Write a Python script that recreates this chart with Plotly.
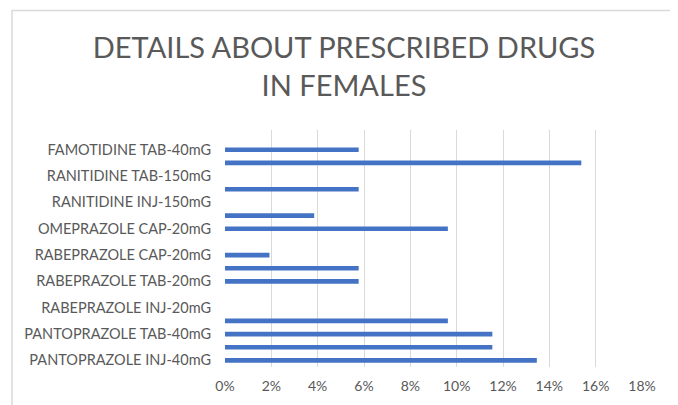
import plotly.graph_objects as go

# Categories bottom -> top. Only every other category label is printed in the
# original chart; the unlabeled ones are placeholders.
categories = [
    "PANTOPRAZOLE INJ-40mG", "(unlabeled 1)",
    "PANTOPRAZOLE TAB-40mG", "(unlabeled 3)",
    "RABEPRAZOLE INJ-20mG", "(unlabeled 5)",
    "RABEPRAZOLE TAB-20mG", "(unlabeled 7)",
    "RABEPRAZOLE CAP-20mG", "(unlabeled 9)",
    "OMEPRAZOLE CAP-20mG", "(unlabeled 11)",
    "RANITIDINE INJ-150mG", "(unlabeled 13)",
    "RANITIDINE TAB-150mG", "(unlabeled 15)",
    "FAMOTIDINE TAB-40mG", "(unlabeled 17)",
]
values = [
    0.1346, 0.1154,
    0.1154, 0.0962,
    0.0, 0.0,
    0.0577, 0.0577,
    0.0192, 0.0,
    0.0962, 0.0385,
    0.0, 0.0577,
    0.0, 0.1538,
    0.0577, 0.0,
]
shown_labels = categories[0::2]
x_ticks = [0, 0.02, 0.04, 0.06, 0.08, 0.10, 0.12, 0.14, 0.16, 0.18]
x_tick_text = ["0%", "2%", "4%", "6%", "8%", "10%", "12%", "14%", "16%", "18%"]
title_text = "DETAILS ABOUT PRESCRIBED DRUGS<br>IN FEMALES"

# the page body has an 8px margin, so the figure is drawn 8px right/down
OFF = 8
W, H = 678 - OFF, 405 - OFF
ML, MT = 225 - OFF, 130 - OFF
MR = W - (642 - OFF)
MB = H - (367 - OFF)
FONT = "Lato, 'Open Sans', sans-serif"

fig = go.Figure(go.Bar(
    x=values, y=categories, orientation="h",
    marker=dict(color="#4472C4", line=dict(width=0)),
    width=0.35,
))

fig.update_layout(
    width=W, height=H,
    margin=dict(l=ML, r=MR, t=MT, b=MB, autoexpand=False),
    paper_bgcolor="white", plot_bgcolor="white",
    showlegend=False,
    font=dict(family=FONT, color="#595959"),
    title=dict(text=title_text, xref="container", x=(344 - OFF) / W, xanchor="center",
               yref="container", y=1 - (58 - OFF) / H, yanchor="middle",
               font=dict(size=29, color="#595959", family=FONT)),
)
fig.update_xaxes(
    range=[0, 0.18], tickvals=x_ticks, ticktext=x_tick_text,
    showgrid=True, gridcolor="#d9d9d9", gridwidth=1,
    zeroline=False, showline=False, automargin=False,
    tickfont=dict(size=14, color="#595959"),
    ticks="", ticklabelstandoff=9,
)
fig.update_yaxes(
    type="category", categoryorder="array", categoryarray=categories,
    range=[-0.5, len(categories) - 0.5],
    tickvals=shown_labels, ticktext=shown_labels,
    showgrid=False, zeroline=False, showline=False, automargin=False,
    tickfont=dict(size=14.5, color="#595959"),
    ticks="", ticklabelstandoff=13,
)

# chart outer border
pw = W - ML - MR
ph = H - MT - MB
def px_to_paper_x(px):
    return (px - OFF - ML) / pw
def px_to_paper_y(py):
    return (H - MB - (py - OFF)) / ph
fig.add_shape(type="rect", xref="paper", yref="paper",
              x0=px_to_paper_x(12), x1=px_to_paper_x(676),
              y0=px_to_paper_y(420), y1=px_to_paper_y(10.5),
              line=dict(color="#d9d9d9", width=1.5), fillcolor="rgba(0,0,0,0)",
              layer="below")

fig.write_html("out.html")
